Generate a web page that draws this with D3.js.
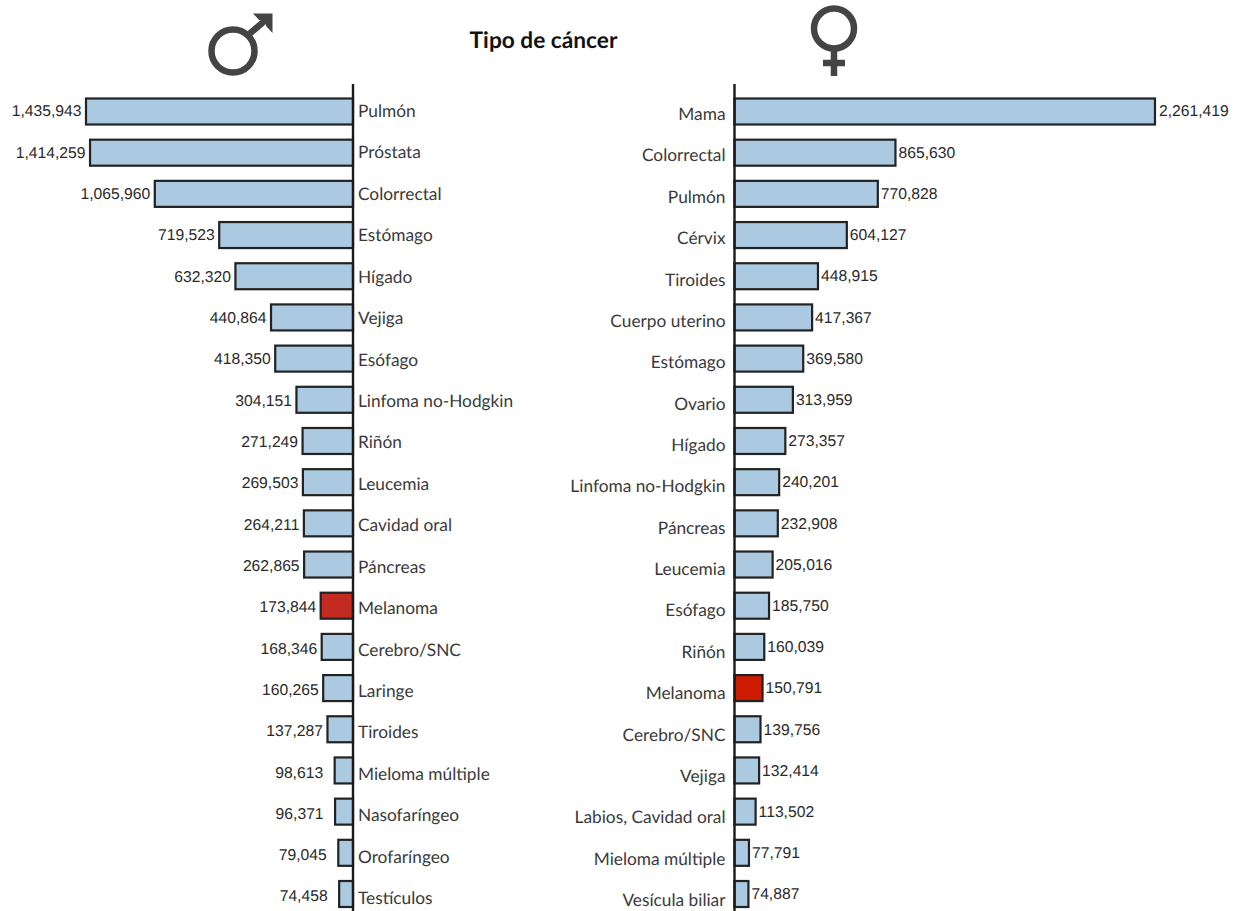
<!DOCTYPE html>
<html lang="es">
<head>
<meta charset="utf-8">
<title>Tipo de cáncer</title>
<script src="https://cdn.jsdelivr.net/npm/d3@7"></script>
<style>
  html, body { margin: 0; padding: 0; background: #fff; }
  svg { display: block; text-rendering: geometricPrecision; }
  .cat text { font-family: Lato, "Open Sans", sans-serif; font-size: 17.3px; fill: #3a3a3a; }
  .val { font-family: "Liberation Sans", Arial, sans-serif; font-size: 15.7px; fill: #2a2a2a; }
  .title { font-family: Lato, "Open Sans", sans-serif; font-size: 22.7px; font-weight: 700; fill: #111; }
</style>
</head>
<body>
<svg id="chart" width="1239" height="911"></svg>
<script>
// Casos de cáncer por tipo, hombres
const maleCategories = ["Pulmón","Próstata","Colorrectal","Estómago","Hígado","Vejiga","Esófago","Linfoma no-Hodgkin","Riñón","Leucemia","Cavidad oral","Páncreas","Melanoma","Cerebro/SNC","Laringe","Tiroides","Mieloma múltiple","Nasofaríngeo","Orofaríngeo","Testículos"];
const maleValues = [1435943,1414259,1065960,719523,632320,440864,418350,304151,271249,269503,264211,262865,173844,168346,160265,137287,98613,96371,79045,74458];

// Casos de cáncer por tipo, mujeres
const femaleCategories = ["Mama","Colorrectal","Pulmón","Cérvix","Tiroides","Cuerpo uterino","Estómago","Ovario","Hígado","Linfoma no-Hodgkin","Páncreas","Leucemia","Esófago","Riñón","Melanoma","Cerebro/SNC","Vejiga","Labios, Cavidad oral","Mieloma múltiple","Vesícula biliar"];
const femaleValues = [2261419,865630,770828,604127,448915,417367,369580,313959,273357,240201,232908,205016,185750,160039,150791,139756,132414,113502,77791,74887];

const highlighted = "Melanoma";
const svg = d3.select("#chart");
const fmt = d3.format(",");
const pxPerCase = 267 / 1435943;

// Un panel: barras desde el eje central, etiquetas de tipo al otro lado
function panel(cfg) {
  const dir = cfg.dir;
  const x = d3.scaleLinear().domain([0, 2500000]).range([cfg.axisX, cfg.axisX + dir * 2500000 * pxPerCase]);
  const barY = d3.scalePoint().domain(cfg.cats).range([111.5, 894]);
  const labelY = d3.scalePoint().domain(cfg.cats).range(cfg.labelRange);
  const valueY = d3.scalePoint().domain(cfg.cats).range(cfg.valueRange);
  const rows = cfg.cats.map((c, i) => ({ c, v: cfg.vals[i] }));
  const g = svg.append("g");

  g.selectAll("rect").data(rows).join("rect")
    .attr("x", d => Math.min(x(0), x(d.v)))
    .attr("width", d => Math.abs(x(d.v) - x(0)))
    .attr("y", d => barY(d.c) - 13)
    .attr("height", 26)
    .attr("fill", d => d.c === highlighted ? cfg.red : "#abc9e1")
    .attr("stroke", "#222")
    .attr("stroke-width", 2.2);

  g.selectAll("text.val").data(rows).join("text")
    .attr("class", "val")
    .attr("x", d => x(d.v) + dir * cfg.gap(d.v))
    .attr("y", d => valueY(d.c))
    .attr("dy", "0.35em")
    .attr("text-anchor", dir < 0 ? "end" : "start")
    .text(d => fmt(d.v));

  const axis = (dir < 0 ? d3.axisRight(labelY) : d3.axisLeft(labelY)).tickSize(0).tickPadding(cfg.pad);
  const ag = g.append("g").attr("class", "cat").attr("transform", `translate(${cfg.axisX},0)`).call(axis);
  ag.select(".domain").remove();

  g.append("line")
    .attr("x1", cfg.axisX).attr("x2", cfg.axisX)
    .attr("y1", 84).attr("y2", 911)
    .attr("stroke", "#1a1a1a").attr("stroke-width", 2.4);
}

// En hombres, las cifras de menos de seis dígitos quedan más separadas de la barra
panel({ cats: maleCategories, vals: maleValues, dir: -1, axisX: 353, red: "#c32a22", pad: 5, gap: v => v < 100000 ? 11.5 : 4.5, labelRange: [111, 898], valueRange: [111, 896] });
panel({ cats: femaleCategories, vals: femaleValues, dir: 1, axisX: 734.5, red: "#cc1b00", pad: 9, gap: v => v > 2000000 ? 4 : 3, labelRange: [114, 900], valueRange: [111, 894] });

svg.append("text").attr("class", "title").attr("x", 543.5).attr("y", 48).attr("text-anchor", "middle").text("Tipo de cáncer");

// Símbolo masculino
const ink = "#444";
const mars = svg.append("g").attr("fill", "none").attr("stroke", ink).attr("stroke-width", 6.5);
mars.append("circle").attr("cx", 233).attr("cy", 51).attr("r", 21.5);
mars.append("line").attr("x1", 248).attr("y1", 35).attr("x2", 268).attr("y2", 18);
svg.append("path").attr("fill", ink).attr("d", "M253,13.5H272.5V33L266,26V20H259Z");

// Símbolo femenino
const venus = svg.append("g").attr("fill", "none").attr("stroke", ink).attr("stroke-width", 6.5);
venus.append("circle").attr("cx", 834).attr("cy", 28.5).attr("r", 20);
venus.append("line").attr("x1", 834).attr("y1", 50).attr("x2", 834).attr("y2", 76);
venus.append("line").attr("x1", 823).attr("y1", 63).attr("x2", 845).attr("y2", 63);
</script>
</body>
</html>
